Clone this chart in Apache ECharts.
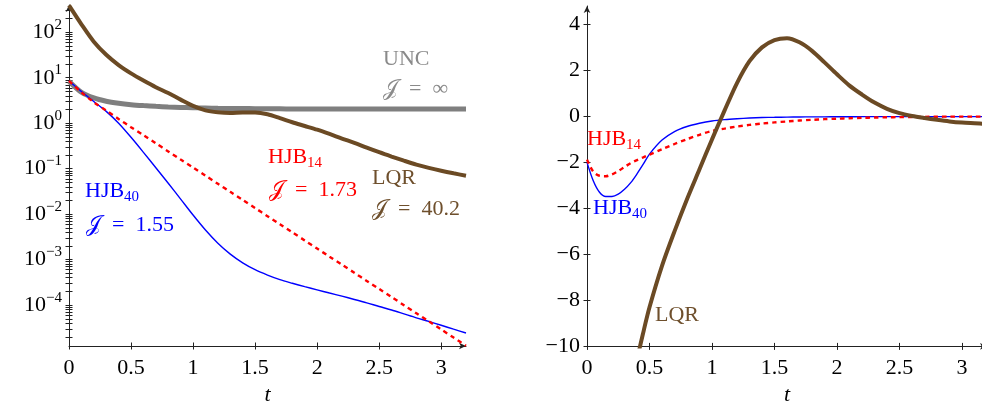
<!DOCTYPE html>
<html><head><meta charset="utf-8">
<script src="https://cdn.jsdelivr.net/npm/echarts@6/dist/echarts.min.js"></script>
<style>html,body{margin:0;padding:0;background:#fff}#c{width:982px;height:402px}</style>
</head><body><div id="c"></div>
<script>
// ---------- data ----------
const tL = [0,0.1,0.2,0.3,0.4,0.5,0.6,0.7,0.8,0.9,1.0,1.1,1.2,1.3,1.4,1.5,1.6,1.7,1.8,1.9,2.0,2.1,2.2,2.3,2.4,2.5,2.6,2.7,2.8,2.9,3.0,3.1,3.2];
const uncL = [8.4,4.8,3.6,3.05,2.75,2.56,2.44,2.35,2.28,2.23,2.19,2.16,2.13,2.11,2.1,2.09,2.08,2.07,2.06,2.06,2.05,2.05,2.05,2.05,2.05,2.05,2.05,2.05,2.05,2.05,2.05,2.05,2.05];
const lqrL = [390,150,62,32,19,12.5,8.7,6.2,4.6,3.3,2.4,1.92,1.74,1.68,1.72,1.72,1.58,1.3,1.05,0.87,0.72,0.58,0.46,0.37,0.29,0.23,0.185,0.15,0.123,0.104,0.09,0.079,0.07];
const hjb14L = [8.5,4.8,2.9,1.9,1.24,0.82,0.545,0.361,0.24,0.159,0.106,0.0702,0.0466,0.0309,0.0205,0.0136,0.00904,0.006,0.00398,0.00264,0.00175,0.00116,7.73e-4,5.13e-4,3.4e-4,2.26e-4,1.5e-4,9.95e-5,6.6e-5,4.39e-5,2.91e-5,1.93e-5,1.28e-5];
const hjb40L = [8.5,5.0,3.0,1.82,1.0,0.49,0.229,0.105,0.0479,0.0214,0.00955,0.00447,0.00229,0.00132,8.5e-4,6.0e-4,4.57e-4,3.63e-4,3.02e-4,2.54e-4,2.16e-4,1.84e-4,1.57e-4,1.33e-4,1.12e-4,9.3e-5,7.8e-5,6.4e-5,5.25e-5,4.37e-5,3.6e-5,2.95e-5,2.43e-5];

const tR = [0,0.05,0.1,0.15,0.2,0.25,0.3,0.35,0.4,0.45,0.5,0.6,0.7,0.8,0.9,1.0,1.1,1.2,1.3,1.4,1.5,1.6,1.7,1.8,1.9,2.0,2.1,2.2,2.3,2.4,2.5,2.6,2.7,2.8,2.9,3.0,3.1,3.2];
const hjb40R = [-2.0,-2.8,-3.3,-3.48,-3.48,-3.38,-3.17,-2.88,-2.5,-2.08,-1.64,-1.03,-0.66,-0.44,-0.3,-0.2,-0.14,-0.1,-0.07,-0.05,-0.04,-0.03,-0.025,-0.02,-0.02,-0.015,-0.015,-0.01,-0.01,-0.01,-0.01,-0.01,-0.01,-0.01,-0.01,-0.01,-0.01,-0.01];
const hjb14R = [-1.88,-2.4,-2.58,-2.6,-2.52,-2.38,-2.2,-2.03,-1.9,-1.78,-1.66,-1.43,-1.2,-0.99,-0.8,-0.63,-0.53,-0.44,-0.37,-0.31,-0.26,-0.22,-0.18,-0.15,-0.12,-0.1,-0.08,-0.065,-0.05,-0.04,-0.03,-0.025,-0.02,-0.015,-0.01,-0.01,-0.01,-0.005];
const lqrR = [-30,-27,-24,-21,-18.5,-16,-13.8,-12.1,-10.6,-9.4,-8.3,-6.5,-5.0,-3.6,-2.3,-1.0,0.25,1.45,2.4,3.0,3.32,3.4,3.22,2.85,2.35,1.83,1.34,0.95,0.6,0.33,0.14,0.02,-0.07,-0.15,-0.22,-0.27,-0.3,-0.33];

const xTicks = [0,0.5,1,1.5,2,2.5,3];
const yTicksL = [1e-4,1e-3,1e-2,1e-1,1,10,100];
const yTicksR = [-10,-8,-6,-4,-2,0,2,4];

// ---------- font detection ----------
function fontAvailable(name) {
  const ctx = document.createElement('canvas').getContext('2d');
  const s = 'HJBQRUNC 0123456789 abcxyz';
  let diff = false;
  ['monospace', 'sans-serif'].forEach(fb => {
    ctx.font = '40px ' + fb;
    const w0 = ctx.measureText(s).width;
    ctx.font = '40px "' + name + '", ' + fb;
    const w1 = ctx.measureText(s).width;
    if (Math.abs(w1 - w0) > 0.5) diff = true;
  });
  return diff;
}
let SERIF = 'serif';
for (const c of ['Liberation Serif', 'DejaVu Serif', 'Noto Serif', 'Times New Roman', 'FreeSerif']) {
  if (fontAvailable(c)) { SERIF = c; break; }
}
const FONT = SERIF;

// ---------- style ----------
const AX = '#222';
const C_GRAY = '#7f7f7f', C_BLUE = '#0000ff', C_RED = '#ff0000', C_BROWN = '#6b4a24', C_BROWN_T = '#6e4f2c', C_GRAY_T = '#8a8a8a';
const yMinL = Math.pow(10,-4.9), yMaxL = Math.pow(10,2.6);
const logTickVals = [];
for (let e = -5; e <= 2; e++) for (let m = 1; m <= 9; m++) {
  const v = m * Math.pow(10, e);
  if (v >= yMinL && v <= yMaxL) logTickVals.push(v);
}
const pair = (t, v) => t.map((x, i) => [x, v[i]]);
const lbl = {fontSize: 22, fontFamily: FONT, color: '#000'};

function xAxisPair(grid) {
  return [
    {gridIndex: grid, type: 'value', min: 0, max: 3.2, position: 'bottom',
     axisLine: {show: true, onZero: false, symbol: ['none', 'arrow'], symbolSize: [5, 7], lineStyle: {color: AX, width: 1}},
     axisTick: {show: true, customValues: xTicks, length: 3.5, lineStyle: {color: AX, width: 1}},
     axisLabel: Object.assign({customValues: xTicks, margin: 11}, lbl),
     splitLine: {show: false},
     name: 't', nameLocation: 'middle', nameGap: 28,
     nameTextStyle: {fontSize: 22, fontFamily: FONT, fontStyle: 'italic', color: '#000'}},
    {gridIndex: grid, type: 'value', min: 0, max: 3.2, position: 'bottom',
     axisLine: {show: false, onZero: false},
     axisTick: {show: true, inside: true, customValues: xTicks, length: 3.5, lineStyle: {color: AX, width: 1}},
     axisLabel: {show: false}, splitLine: {show: false}}
  ];
}
const supRich = {
  b: {fontSize: 22, fontFamily: FONT, color: '#000', lineHeight: 30},
  s: {fontSize: 15, fontFamily: FONT, color: '#000', lineHeight: 15, verticalAlign: 'top'}
};

const option = {
  animation: false,
  backgroundColor: '#fff',
  grid: [
    {left: 69, top: 5, width: 397, height: 341, containLabel: false, outerBoundsMode: 'none'},
    {left: 587, top: 6, width: 400, height: 340.4, containLabel: false, outerBoundsMode: 'none'}
  ],
  xAxis: [...xAxisPair(0), ...xAxisPair(1)],
  yAxis: [
    {gridIndex: 0, type: 'log', logBase: 10, min: yMinL, max: yMaxL, position: 'left',
     axisLine: {show: true, onZero: false, symbol: ['none', 'arrow'], symbolSize: [5, 7], lineStyle: {color: AX, width: 1}},
     axisTick: {show: true, customValues: logTickVals, length: 3.5, lineStyle: {color: AX, width: 1}},
     axisLabel: {customValues: yTicksL, margin: 7,
       formatter: v => { const e = Math.round(Math.log10(v)); return '{b|10}{s|' + (e < 0 ? '\u2212' + (-e) : e) + '}'; },
       rich: supRich},
     splitLine: {show: false}, minorTick: {show: false}},
    {gridIndex: 0, type: 'log', logBase: 10, min: yMinL, max: yMaxL, position: 'left',
     axisLine: {show: false, onZero: false},
     axisTick: {show: true, inside: true, customValues: logTickVals, length: 3.5, lineStyle: {color: AX, width: 1}},
     axisLabel: {show: false}, splitLine: {show: false}},
    {gridIndex: 1, type: 'value', min: -10, max: 4.8, position: 'left',
     axisLine: {show: true, onZero: false, symbol: ['none', 'arrow'], symbolSize: [5, 7], lineStyle: {color: AX, width: 1}},
     axisTick: {show: true, customValues: yTicksR, length: 3.5, lineStyle: {color: AX, width: 1}},
     axisLabel: Object.assign({customValues: yTicksR, margin: 7,
       formatter: v => v < 0 ? '\u2212' + (-v) : String(v)}, lbl),
     splitLine: {show: false}},
    {gridIndex: 1, type: 'value', min: -10, max: 4.8, position: 'left',
     axisLine: {show: false, onZero: false},
     axisTick: {show: true, inside: true, customValues: yTicksR, length: 3.5, lineStyle: {color: AX, width: 1}},
     axisLabel: {show: false}, splitLine: {show: false}}
  ],
  series: [
    {name: 'UNC', type: 'line', xAxisIndex: 0, yAxisIndex: 0, data: pair(tL, uncL), showSymbol: false, smooth: 0.3,
     lineStyle: {color: C_GRAY, width: 5}, itemStyle: {color: C_GRAY}, z: 2},
    {name: 'HJB40', type: 'line', xAxisIndex: 0, yAxisIndex: 0, data: pair(tL, hjb40L), showSymbol: false, smooth: 0.3,
     lineStyle: {color: C_BLUE, width: 1.4}, itemStyle: {color: C_BLUE}, z: 3},
    {name: 'HJB14', type: 'line', xAxisIndex: 0, yAxisIndex: 0, data: pair(tL, hjb14L), showSymbol: false, smooth: 0.3,
     lineStyle: {color: C_RED, width: 2.4, type: [4.5, 4]}, itemStyle: {color: C_RED}, z: 4},
    {name: 'LQR', type: 'line', xAxisIndex: 0, yAxisIndex: 0, data: pair(tL, lqrL), showSymbol: false, smooth: 0.3,
     lineStyle: {color: C_BROWN, width: 4}, itemStyle: {color: C_BROWN}, z: 5},
    {name: 'HJB40 u', type: 'line', xAxisIndex: 2, yAxisIndex: 2, data: pair(tR, hjb40R), showSymbol: false, smooth: 0.3,
     lineStyle: {color: C_BLUE, width: 1.4}, itemStyle: {color: C_BLUE}, z: 3},
    {name: 'HJB14 u', type: 'line', xAxisIndex: 2, yAxisIndex: 2, data: pair(tR, hjb14R), showSymbol: false, smooth: 0.3,
     lineStyle: {color: C_RED, width: 2.4, type: [4.5, 4]}, itemStyle: {color: C_RED}, z: 4},
    {name: 'LQR u', type: 'line', xAxisIndex: 2, yAxisIndex: 2, data: pair(tR, lqrR), showSymbol: false, smooth: 0.3,
     lineStyle: {color: C_BROWN, width: 4}, itemStyle: {color: C_BROWN}, z: 5}
  ],
  graphic: []
};

function plain(text, color, x, y) {
  return {type: 'text', x: x, y: y, z: 100,
    style: {text: text, fill: color, fontSize: 22, fontFamily: FONT, align: 'left', verticalAlign: 'middle'}};
}
function subbed(main, sub, color, x, capY) {
  return {type: 'text', x: x, y: capY - 11, z: 100,
    style: {text: '{m|' + main + '}{s|' + sub + '}', fill: color, fontFamily: FONT, align: 'left', verticalAlign: 'top',
      rich: {
        m: {fontSize: 22, fontFamily: FONT, fill: color, color: color, lineHeight: 22, verticalAlign: 'bottom', padding: [0, 0, 3, 0]},
        s: {fontSize: 15, fontFamily: FONT, fill: color, color: color, lineHeight: 15, verticalAlign: 'bottom'}
      }}};
}
const J = '\u{1D4A5}';
const SP = '\u2002';
option.graphic = [
  plain('UNC', C_GRAY_T, 383, 59),
  plain(J + SP + '=' + SP + '\u221E', C_GRAY_T, 383, 89),
  subbed('HJB', '14', C_RED, 268, 160),
  plain(J + SP + '=' + SP + '1.73', C_RED, 269, 190),
  plain('LQR', C_BROWN_T, 372, 178),
  plain(J + SP + '=' + SP + '40.2', C_BROWN_T, 372, 209),
  subbed('HJB', '40', C_BLUE, 85, 194),
  plain(J + SP + '=' + SP + '1.55', C_BLUE, 86, 225),
  subbed('HJB', '14', C_RED, 587, 142),
  subbed('HJB', '40', C_BLUE, 593, 211),
  plain('LQR', C_BROWN_T, 655, 315)
];

const chart = echarts.init(document.getElementById('c'), null, {renderer: 'canvas'});
chart.setOption(option);
</script>
</body></html>
